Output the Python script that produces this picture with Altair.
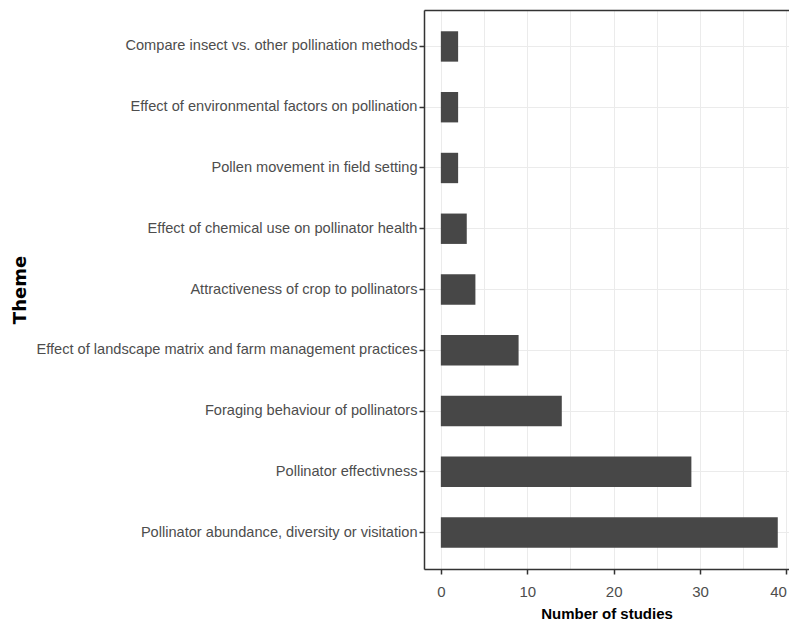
import altair as alt
import pandas as pd

themes = [
    "Compare insect vs. other pollination methods",
    "Effect of environmental factors on pollination",
    "Pollen movement in field setting",
    "Effect of chemical use on pollinator health",
    "Attractiveness of crop to pollinators",
    "Effect of landscape matrix and farm management practices",
    "Foraging behaviour of pollinators",
    "Pollinator effectivness",
    "Pollinator abundance, diversity or visitation",
]
studies = [2, 2, 2, 3, 4, 9, 14, 29, 39]
x_ticks = [0, 5, 10, 15, 20, 25, 30, 35, 40]

df = pd.DataFrame({"Theme": themes, "Studies": studies})

SANS = "Liberation Sans, Arial, sans-serif"
BORDER = "#333333"

x_scale = alt.Scale(domain=[-1.95, 40.3], nice=False, zero=False)
y_scale = alt.Scale(paddingInner=0.5, paddingOuter=0.35)

bars = alt.Chart(df).mark_bar(color="#474747").encode(
    y=alt.Y(
        "Theme:N",
        sort=themes,
        scale=y_scale,
        axis=alt.Axis(
            title="Theme",
            titleFont="DejaVu Sans",
            titleFontWeight="bold",
            titleFontSize=18,
            titleColor="#000000",
            titleBaseline="alphabetic",
            titleX=-399,
            labelFont=SANS,
            labelFontSize=14.6,
            labelColor="#4D4D4D",
            labelLimit=600,
            labelPadding=2,
            tickSize=5,
            tickColor=BORDER,
            tickWidth=1.5,
            domain=True,
            domainColor=BORDER,
            domainWidth=1.5,
            grid=True,
            gridColor="#EBEBEB",
            gridWidth=1,
        ),
    ),
    x=alt.X(
        "Studies:Q",
        scale=x_scale,
        axis=alt.Axis(
            title="Number of studies",
            values=x_ticks,
            titleFont=SANS,
            titleFontWeight="bold",
            titleFontSize=15,
            titleColor="#000000",
            titleBaseline="alphabetic",
            titleY=49,
            labelFont=SANS,
            labelFontSize=15,
            labelColor="#4D4D4D",
            labelBaseline="middle",
            labelPadding=17,
            labelAlign={"condition": {"test": "datum.value === 40", "value": "right"}, "value": "center"},
            labelExpr="datum.value % 10 === 0 ? datum.label : ''",
            tickSize=5,
            tickColor=BORDER,
            tickWidth=1.5,
            tickOpacity={"condition": {"test": "datum.value % 10 === 0", "value": 1}, "value": 0},
            domain=True,
            domainColor=BORDER,
            domainWidth=1.5,
            grid=True,
            gridColor="#EBEBEB",
            gridWidth=1,
        ),
    ),
)

top_border = alt.Chart(df).mark_bar(opacity=0).encode(
    y=alt.Y("Theme:N", sort=themes, scale=y_scale),
    x=alt.X(
        "Studies:Q",
        scale=x_scale,
        axis=alt.Axis(
            orient="top",
            title="",
            labels=False,
            ticks=False,
            grid=False,
            domain=True,
            domainColor=BORDER,
            domainWidth=1.5,
        ),
    ),
)

chart = alt.layer(bars, top_border).resolve_axis(x="independent").properties(
    width=365,
    height=559,
    autosize=alt.AutoSizeParams(type="none"),
    padding={"left": 416, "top": 2, "right": 0, "bottom": 51},
).configure_view(
    stroke=None,
).configure(background="white")

chart.save("out.html", embed_options={"renderer": "svg", "actions": False})
